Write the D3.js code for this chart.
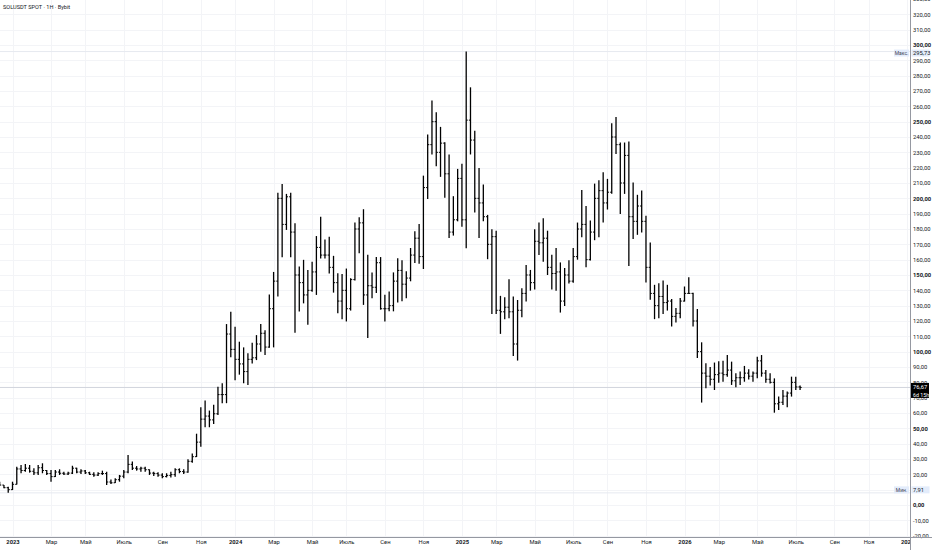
<!DOCTYPE html>
<html><head><meta charset="utf-8">
<script src="https://cdn.jsdelivr.net/npm/d3@7"></script>
<style>body{margin:0;background:#fff}svg{display:block}</style>
</head><body>
<svg id="c" width="932" height="550"></svg>
<script>
const title = "SOLUSDT SPOT · 1Н · Bybit";
const firstWeek = "2022-12-12";
const opens = [14.2,13.0,11.3,10.0,13.5,23.5,22.5,24.0,22.0,21.0,24.3,22.5,20.5,18.5,21.5,20.7,20.2,20.8,24.0,21.5,22.2,21.0,20.0,19.5,20.5,20.5,15.0,14.5,16.5,18.8,21.5,26.5,24.0,23.5,24.0,23.0,20.8,20.5,19.5,18.5,19.3,19.8,23.0,21.8,21.5,28.5,31.5,41.0,56.0,58.0,55.5,59.5,72.0,72.0,111.5,101.5,95.0,92.0,87.0,95.0,96.0,105.0,112.0,103.0,128.0,146.0,200.0,183.0,201.0,178.0,150.0,145.0,137.0,140.0,152.0,168.0,163.0,163.0,155.0,145.0,133.0,140.0,128.0,147.0,180.0,184.0,137.0,143.0,142.0,158.0,128.0,128.0,130.0,146.0,153.0,144.0,148.0,163.0,174.0,162.0,207.0,235.0,250.0,230.0,236.0,216.0,178.0,186.0,213.0,186.0,251.0,238.0,200.0,197.0,188.0,170.0,175.0,127.0,126.0,129.0,126.0,105.0,127.0,138.0,150.0,145.0,172.0,171.0,174.0,155.0,151.0,152.0,133.0,150.0,146.0,162.0,180.0,183.0,160.0,178.0,200.0,205.0,197.0,204.0,240.0,235.0,210.0,228.0,188.0,185.0,195.0,185.0,155.0,138.0,130.0,136.0,132.0,133.0,123.0,125.0,133.0,138.0,138.0,120.0,100.0,86.0,84.0,82.0,85.0,86.0,85.0,88.0,81.0,83.0,83.0,86.0,84.0,86.0,94.0,86.0,82.0,80.0,66.0,67.0,71.0,73.0,80.0,77.0];
const highs = [15.2,13.0,11.9,15.2,25.0,26.1,26.7,26.1,23.9,26.1,27.2,22.8,22.8,22.8,23.3,21.7,21.7,25.6,24.3,23.3,22.8,21.7,21.3,21.3,22.4,21.7,16.7,17.4,19.6,22.8,32.6,28.3,25.4,25.0,25.0,23.2,21.7,21.3,20.7,20.7,21.7,23.9,23.9,23.3,29.8,33.6,46.5,63.7,68.1,61.6,65.3,77.2,79.4,118.0,126.0,116.2,106.5,102.8,98.9,105.8,110.8,118.0,114.0,137.3,152.0,203.7,209.4,202.9,203.7,183.8,155.5,159.9,153.3,158.7,175.4,188.0,173.2,175.0,162.5,151.2,150.7,154.2,147.9,184.2,187.7,192.9,163.2,151.7,161.7,161.7,137.1,139.3,151.7,161.0,159.6,152.4,167.6,178.5,183.3,214.8,241.6,263.8,256.2,246.6,236.6,228.6,201.4,219.2,222.6,295.73,272.4,244.1,219.8,209.0,189.2,179.8,178.9,136.4,135.5,147.2,136.0,133.7,141.3,156.6,153.3,179.8,184.2,187.0,178.9,163.2,167.6,158.2,154.5,159.6,167.6,184.2,205.5,195.0,185.5,209.6,211.8,217.0,212.7,249.0,253.0,236.4,236.4,237.0,210.3,202.3,205.1,188.6,171.2,143.6,144.7,146.4,143.6,134.3,128.4,135.0,142.5,148.6,138.5,127.8,106.1,92.4,90.0,92.9,93.7,94.1,97.8,93.5,85.9,87.0,90.7,88.5,87.0,96.7,97.8,88.0,85.9,82.6,70.7,75.0,74.0,83.7,83.7,78.0];
const lows = [12.9,10.9,7.91,9.8,13.3,20.7,21.7,21.1,19.6,19.6,20.7,19.6,15.2,18.3,19.6,19.6,19.6,20.2,20.7,20.2,20.2,19.6,18.5,18.9,19.6,13.0,13.7,14.4,15.2,17.4,20.7,22.8,22.4,21.7,21.7,19.6,18.9,18.5,17.4,18.0,18.0,18.5,20.7,20.2,21.1,27.6,31.3,38.0,50.7,50.7,52.9,58.7,66.4,66.4,96.4,81.4,85.0,79.4,78.3,92.3,94.5,99.9,97.8,102.5,102.8,135.9,161.5,179.4,161.5,112.4,126.2,131.5,117.5,139.1,137.0,160.8,160.8,151.0,138.5,125.1,121.2,119.7,126.8,146.4,164.2,130.5,108.9,134.9,138.2,127.4,119.7,126.3,126.3,132.1,132.8,134.9,145.9,157.8,157.4,153.9,199.6,228.6,221.0,214.0,200.3,174.2,175.7,185.0,181.4,167.4,228.6,190.8,174.2,185.0,160.3,124.6,124.6,111.6,121.2,121.8,97.2,94.2,122.4,132.7,139.8,140.6,163.1,158.7,150.0,140.6,139.8,125.5,129.8,144.4,145.0,160.0,174.6,155.0,159.5,172.7,174.6,184.2,192.7,203.0,228.9,189.8,202.9,155.9,173.4,176.2,177.7,145.1,133.8,121.2,121.8,124.6,126.8,116.4,119.1,121.8,132.7,137.8,116.4,95.8,66.8,76.1,78.0,75.0,79.8,80.4,83.7,78.3,76.8,78.3,80.4,81.9,80.4,82.6,83.7,79.8,79.2,60.2,62.0,65.2,63.7,70.7,75.0,75.0];
const closes = [13.0,11.3,10.0,13.5,23.5,22.5,24.0,22.0,21.0,24.3,22.5,20.5,18.5,21.5,20.7,20.2,20.8,24.0,21.5,22.2,21.0,20.0,19.5,20.5,20.5,15.0,14.5,16.5,18.8,21.5,26.5,24.0,23.5,24.0,23.0,20.8,20.5,19.5,18.5,19.3,19.8,23.0,21.8,21.5,28.5,31.5,41.0,56.0,58.0,55.5,59.5,72.0,72.0,111.5,101.5,95.0,92.0,87.0,95.0,96.0,105.0,112.0,103.0,128.0,146.0,200.0,183.0,201.0,178.0,150.0,145.0,137.0,140.0,152.0,168.0,163.0,163.0,155.0,145.0,133.0,140.0,128.0,147.0,180.0,184.0,137.0,143.0,142.0,158.0,128.0,128.0,130.0,146.0,153.0,144.0,148.0,163.0,174.0,162.0,207.0,235.0,250.0,230.0,236.0,216.0,178.0,186.0,213.0,186.0,251.0,238.0,200.0,197.0,188.0,170.0,175.0,127.0,126.0,129.0,126.0,105.0,127.0,138.0,150.0,145.0,172.0,171.0,174.0,155.0,151.0,152.0,133.0,150.0,146.0,162.0,180.0,183.0,160.0,178.0,200.0,205.0,197.0,204.0,240.0,235.0,210.0,228.0,188.0,185.0,195.0,185.0,155.0,138.0,130.0,136.0,132.0,133.0,123.0,125.0,133.0,138.0,138.0,120.0,100.0,86.0,84.0,82.0,85.0,86.0,85.0,88.0,81.0,83.0,83.0,86.0,84.0,86.0,94.0,86.0,82.0,80.0,66.0,67.0,71.0,73.0,80.0,77.0,76.67];
const priceTicks = [330,320,310,300,290,280,270,260,250,240,230,220,210,200,190,180,170,160,150,140,130,120,110,100,90,80,70,60,50,40,30,20,10,0,-10,-20];
const timeTickDates = ["2023-01-02","2023-03-06","2023-05-01","2023-07-03","2023-09-04","2023-11-06","2024-01-01","2024-03-04","2024-05-06","2024-07-01","2024-09-02","2024-11-04","2025-01-06","2025-03-03","2025-05-05","2025-07-07","2025-09-01","2025-11-03","2026-01-05","2026-03-02","2026-05-04","2026-07-06","2026-09-07","2026-11-02","2027-01-04"];
const timeTickLabels = ["2023","Мар","Май","Июль","Сен","Ноя","2024","Мар","Май","Июль","Сен","Ноя","2025","Мар","Май","Июль","Сен","Ноя","2026","Мар","Май","Июль","Сен","Ноя","2027"];
const maxPrice = 295.73, minPrice = 7.91, lastPrice = 76.67, countdown = "6d 15h";

const W = 932, H = 550, plotR = 910, plotB = 537;
const parse = d3.utcParse("%Y-%m-%d");
const dates = d3.utcMonday.range(parse(firstWeek), d3.utcMonday.offset(parse(firstWeek), closes.length));
const bars = dates.map((d, i) => ({d, o: opens[i], h: highs[i], l: lows[i], c: closes[i]}));

const x = d3.scaleUtc().domain([parse("2023-01-02"), parse("2026-01-05")]).range([12.5, 684.5]);
const y = d3.scaleLinear().domain([0, 300]).range([505, 45]);
const loc = d3.formatLocale({decimal: ",", thousands: " ", grouping: [3], currency: ["", ""], minus: "-"});
const fmt = loc.format(".2f");
const FONT = "Roboto, 'Liberation Sans', Arial, sans-serif";

const svg = d3.select("#c").style("font-family", FONT);
svg.append("rect").attr("width", W).attr("height", H).attr("fill", "#fff");
const defs = svg.append("defs");
defs.append("clipPath").attr("id", "plot").append("rect").attr("x", 0).attr("y", 0).attr("width", plotR).attr("height", plotB);

const plot = svg.append("g").attr("clip-path", "url(#plot)");
// grid
plot.append("g").selectAll("line").data(priceTicks).join("line")
  .attr("x1", 0).attr("x2", plotR).attr("y1", d => Math.round(y(d)) + 0.5).attr("y2", d => Math.round(y(d)) + 0.5)
  .attr("stroke", "#f3f4f7").attr("stroke-width", 1);
plot.append("g").selectAll("line").data(timeTickDates).join("line")
  .attr("y1", 0).attr("y2", plotB).attr("x1", d => Math.round(x(parse(d))) + 0.5).attr("x2", d => Math.round(x(parse(d))) + 0.5)
  .attr("stroke", "#f3f4f7").attr("stroke-width", 1);
// max/min lines
[maxPrice, minPrice].forEach(v => {
  plot.append("line").attr("x1", 0).attr("x2", plotR).attr("y1", y(v)).attr("y2", y(v))
    .attr("stroke", "#e6e9f0").attr("stroke-width", 1);
});
// last price line
plot.append("line").attr("x1", 0).attr("x2", plotR).attr("y1", y(lastPrice)).attr("y2", y(lastPrice))
  .attr("stroke", "#d1d4dc").attr("stroke-width", 1);

// OHLC bars
const g = plot.append("g").attr("stroke", "#000");
const bw = 1.3, tk = 1.6;
bars.forEach(b => {
  const cx = x(b.d);
  g.append("line").attr("x1", cx).attr("x2", cx).attr("y1", y(b.h)).attr("y2", y(b.l)).attr("stroke-width", bw);
  g.append("line").attr("x1", cx - tk).attr("x2", cx).attr("y1", y(b.o)).attr("y2", y(b.o)).attr("stroke-width", 1);
  g.append("line").attr("x1", cx).attr("x2", cx + tk).attr("y1", y(b.c)).attr("y2", y(b.c)).attr("stroke-width", 1);
});

// title
svg.append("text").attr("x", 3).attr("y", 9).attr("font-size", 5.6).attr("fill", "#131722").text(title);

// right axis panel
svg.append("rect").attr("x", plotR).attr("y", 0).attr("width", W - plotR).attr("height", H).attr("fill", "#fff");
const ya = svg.append("g").attr("transform", `translate(${plotR},0)`)
  .call(d3.axisRight(y).tickValues(priceTicks).tickSize(0).tickPadding(3).tickFormat(fmt));
ya.select(".domain").remove();
ya.selectAll("text").attr("font-size", 5.8).attr("fill", "#131722").attr("font-family", FONT)
  .attr("font-weight", d => d % 50 === 0 ? "bold" : "normal");
svg.append("line").attr("x1", plotR + 0.5).attr("x2", plotR + 0.5).attr("y1", 0).attr("y2", H).attr("stroke", "#9598a1").attr("stroke-width", 1);

// max/min labels
function hlLabel(v, name, dy) {
  const cy = y(v) + dy;
  svg.append("rect").attr("x", 894).attr("y", cy - 3.5).attr("width", 15).attr("height", 7).attr("fill", "#e3ecfb");
  svg.append("text").attr("x", 901.5).attr("y", cy).attr("dy", "0.35em").attr("text-anchor", "middle")
    .attr("font-size", 5).attr("fill", "#434651").text(name);
  svg.append("rect").attr("x", plotR + 1.5).attr("y", cy - 3.5).attr("width", 18).attr("height", 7).attr("fill", "#e3ecfb");
  svg.append("text").attr("x", plotR + 3).attr("y", cy).attr("dy", "0.35em")
    .attr("font-size", 5.8).attr("fill", "#131722").text(fmt(v));
}
hlLabel(maxPrice, "Макс.", 1.5);
hlLabel(minPrice, "Мин.", -3);

// last price box
const ly = y(lastPrice);
svg.append("rect").attr("x", plotR + 1).attr("y", ly - 4.5).attr("width", 18).attr("height", 15).attr("fill", "#000");
svg.append("text").attr("x", plotR + 3).attr("y", ly).attr("dy", "0.35em").attr("font-size", 5.8).attr("fill", "#fff").text(fmt(lastPrice));
svg.append("text").attr("x", plotR + 3).attr("y", ly + 7.5).attr("dy", "0.35em").attr("font-size", 5.3).attr("fill", "#fff").text(countdown);

// bottom axis
svg.append("rect").attr("x", 0).attr("y", plotB).attr("width", plotR).attr("height", H - plotB).attr("fill", "#fff");
const xg = svg.append("g").attr("clip-path", "url(#xclip)");
defs.append("clipPath").attr("id", "xclip").append("rect").attr("x", 0).attr("y", plotB).attr("width", plotR).attr("height", H - plotB);
const xa = xg.append("g").attr("transform", `translate(0,${plotB})`)
  .call(d3.axisBottom(x).tickValues(timeTickDates.map(parse)).tickSize(0).tickPadding(3).tickFormat((d, i) => timeTickLabels[i]));
xa.select(".domain").remove();
xa.selectAll("text").attr("font-size", 5.8).attr("fill", "#131722").attr("font-family", FONT)
  .attr("font-weight", (d, i) => /^\d{4}$/.test(timeTickLabels[i]) ? "bold" : "normal");
svg.append("line").attr("x1", 0).attr("x2", W).attr("y1", plotB + 0.5).attr("y2", plotB + 0.5).attr("stroke", "#9598a1").attr("stroke-width", 1);
</script>
</body></html>
